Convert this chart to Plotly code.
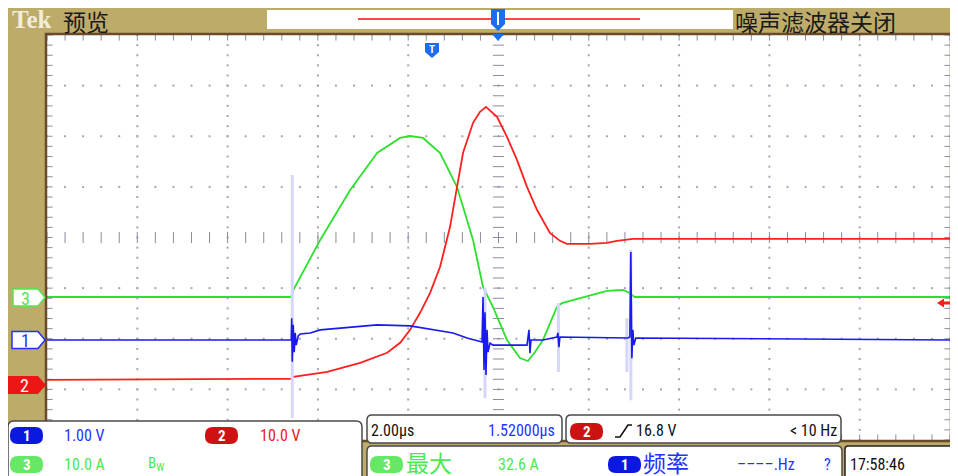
import plotly.graph_objects as go

# The page body has an 8px margin: the figure is sized to fill the rest of the window,
# and every layout position below is given in window pixels, then shifted by OFF.
WIN_W, WIN_H = 958, 476
OFF = 8
W, H = WIN_W - OFF, WIN_H - OFF
GX0, GX1, GY0, GY1 = 47, 950, 35, 440          # graticule box (window pixels)

# ---------------- scope settings ----------------
TIME_PER_DIV = 2.0                 # us / div
CH1_SCALE, CH1_POS = 1.0, -2.025   # V/div , ground position (div)
CH2_SCALE, CH2_POS = 10.0, -2.91   # V/div
CH3_SCALE, CH3_POS = 10.0, -1.175  # A/div

# ---------------- waveform data ----------------
# CH3 current (A)
ch3_t = [-10.0, -4.591, -4.546, -3.949, -3.285, -2.688, -2.179, -1.958, -1.670, -1.294,
         -0.918, -0.564, -0.343, -0.122, 0.188, 0.476, 0.653, 0.808, 0.985, 1.294,
         1.405, 1.648, 2.024, 2.400, 2.754, 2.865, 3.020, 10.0]
ch3_a = [0.0, 0.0, 1.38, 11.26, 21.14, 28.44, 31.41, 31.80, 31.41, 28.44,
         21.73, 11.26, 1.98, -1.98, -8.49, -12.05, -12.64, -10.86, -8.49, -1.98,
         -1.19, -0.59, 0.40, 1.19, 1.38, 0.99, 0.0, 0.0]

# CH2 voltage (V)
ch2_t = [-10.0, -4.591, -4.546, -3.794, -3.064, -2.467, -2.179, -1.958, -1.737, -1.515,
         -1.294, -1.073, -0.918, -0.785, -0.564, -0.409, -0.277, -0.033, 0.188, 0.409,
         0.631, 0.852, 1.139, 1.361, 1.515, 2.024, 2.400, 2.622, 2.976, 10.0]
ch2_v = [0.99, 1.19, 1.58, 2.57, 4.35, 6.32, 8.30, 10.86, 14.22, 18.17,
         23.31, 31.21, 39.11, 45.83, 51.75, 53.93, 54.91, 52.94, 48.99, 44.44,
         39.11, 34.57, 30.02, 28.44, 27.85, 27.85, 28.05, 28.44, 28.84, 28.84]

# CH1 voltage (V)
ch1_t = [-10.0, -4.635, -4.591, -4.580, -4.568, -4.546, -4.524, -4.502, -4.480, -4.436,
         -4.392, -4.170, -3.949, -3.440, -2.688, -1.958, -1.449, -1.007, -0.697, -0.409,
         -0.365, -0.343, -0.321, -0.299, -0.277, -0.254, -0.232, -0.188, -0.122, 0.631,
         0.675, 0.697, 0.719, 0.985, 1.294, 1.316, 1.338, 1.361, 2.246, 2.865,
         2.909, 2.931, 2.954, 2.976, 2.998, 3.042, 10.0]
ch1_v = [0.0, 0.0, 0.0, 0.43, -0.43, 0.30, -0.24, 0.14, -0.10, 0.08,
         0.12, 0.14, 0.20, 0.24, 0.30, 0.28, 0.20, 0.14, 0.04, -0.04,
         -0.04, 0.85, -0.59, 0.55, -0.69, 0.20, -0.24, -0.06, -0.10, -0.10,
         0.20, -0.26, 0.0, 0.0, 0.06, 0.14, -0.14, 0.06, 0.04, 0.04,
         0.06, 1.74, -0.36, 0.20, -0.10, 0.04, 0.0]

# CH1 persistence spikes (faint)
spike_t = [-4.568, -0.299, 1.327, 2.843, 2.931]
spike_hi = [3.26, 1.03, 0.73, 0.43, 1.78]
spike_lo = [-1.54, -1.15, -0.63, -0.63, -1.19]

# ---------------- text ----------------
ch1_label, ch2_label, ch3_label = "1.00 V", "10.0 V", "10.0 A"
timebase_label, hpos_label = "2.00µs", "1.52000µs"
trig_label, trig_freq = "16.8 V", "< 10 Hz"
meas1_name, meas1_val = "最大", "32.6 A"
meas2_name, meas2_val = "频率", "––––.Hz"
clock_label = "17:58:46"

SANS = "Liberation Sans Narrow, Roboto Condensed, Liberation Sans, Arial, sans-serif"
CJK = "Noto Sans CJK SC, sans-serif"
TAN = "#bdab6a"
BROWN = "#6b4a28"
BLUE_T, RED_T, GREEN_T = "#2233ff", "#e81820", "#4ee84e"
BLUE_P, RED_P, GREEN_P = "#0a18e0", "#cc1212", "#66e866"
BOXLINE = "#4a4a4a"


def fx(x):
    return (x - OFF) / W


def fy(y):
    return 1 - (y - OFF) / H


def P(x, y):
    return f"{fx(x):.5f},{fy(y):.5f}"


def rrect_path(x0, y0, x1, y1, r):
    return (f"M{P(x0 + r, y0)} L{P(x1 - r, y0)} Q{P(x1, y0)} {P(x1, y0 + r)} "
            f"L{P(x1, y1 - r)} Q{P(x1, y1)} {P(x1 - r, y1)} L{P(x0 + r, y1)} "
            f"Q{P(x0, y1)} {P(x0, y1 - r)} L{P(x0, y0 + r)} Q{P(x0, y0)} {P(x0 + r, y0)} Z")


def poly_path(pts):
    return "M" + " L".join(P(x, y) for x, y in pts) + " Z"


def pshape(path, fill="rgba(0,0,0,0)", line="rgba(0,0,0,0)", lw=0):
    return dict(type="path", path=path, xref="paper", yref="paper", fillcolor=fill,
                line=dict(color=line, width=lw), layer="above")


def rect(x0, y0, x1, y1, fill, line="rgba(0,0,0,0)", lw=0):
    return dict(type="rect", xref="paper", yref="paper", x0=fx(x0), x1=fx(x1),
                y0=fy(y1), y1=fy(y0), fillcolor=fill,
                line=dict(color=line, width=lw), layer="above")


annotations = []


def txt(s, x, y, color, size, anchor="left", family=SANS, height=None):
    a = dict(text=s, x=fx(x), y=fy(y), xref="paper", yref="paper",
             xanchor=anchor, yanchor="middle", showarrow=False,
             font=dict(color=color, size=size, family=family))
    if height:
        a["height"] = height
    annotations.append(a)


shapes = []


def pill(x0, y0, x1, y1, fill, label):
    shapes.append(pshape(rrect_path(x0, y0, x1, y1, (y1 - y0) / 2.2), fill=fill))
    txt(f"<b>{label}</b>", (x0 + x1) / 2, (y0 + y1) / 2 + 0.5, "white", 15, "center")


# graticule frame
shapes.append(rect(GX0 - 1, GY0 - 1, GX1 + 1, GY1 + 1, "rgba(0,0,0,0)", BROWN, 2.5))

# top header bar
txt("<b>Tek</b>", 10, 19, "#f2ecd8", 25, family="Liberation Serif, DejaVu Serif, serif", height=24)
txt("预览", 61, 21, "#1a1a1a", 23, family=CJK, height=26)
shapes.append(rect(267, 10, 733, 29, "white"))
shapes.append(dict(type="line", xref="paper", yref="paper", x0=fx(358), x1=fx(640),
                   y0=fy(19), y1=fy(19), line=dict(color="#ff4545", width=2), layer="above"))
txt("噪声滤波器关闭", 733, 21, "#1a1a1a", 23, family=CJK, height=26)

# expansion-point / trigger position markers
MK = "#1e6cf0"
shapes.append(pshape(poly_path([(491, 9), (505, 9), (505, 24), (498, 31), (491, 24)]), fill=MK))
shapes.append(dict(type="line", xref="paper", yref="paper", x0=fx(498), x1=fx(498),
                   y0=fy(12), y1=fy(25), line=dict(color="white", width=2), layer="above"))
shapes.append(pshape(poly_path([(492, 34), (504, 34), (498, 41)]), fill=MK))
shapes.append(pshape(poly_path([(425, 43), (439, 43), (439, 52), (432, 58), (425, 52)]), fill=MK))
txt("<b>T</b>", 432, 49, "white", 11, "center")

# left channel markers
shapes.append(pshape(poly_path([(13, 289), (38, 289), (45, 297.5), (38, 306), (13, 306)]), fill="white", line=GREEN_T, lw=1.5))
txt("3", 25, 298, GREEN_T, 18, "center")
shapes.append(pshape(poly_path([(12, 331.5), (38, 331.5), (45, 340), (38, 348.5), (12, 348.5)]), fill="white", line=BLUE_T, lw=1.5))
txt("1", 25, 340.5, BLUE_T, 18, "center")
shapes.append(pshape(poly_path([(8, 376), (38, 376), (46, 385), (38, 394), (8, 394)]), fill="#ee1515"))
txt("2", 24, 385.5, "white", 18, "center")

# right trigger level arrow
shapes.append(pshape(poly_path([(937, 303), (944, 298.5), (944, 307.5)]), fill="#ee2020"))
shapes.append(rect(943, 301.5, 950, 304.5, "#ee2020"))

# bottom info boxes
shapes.append(pshape(rrect_path(8, 421, 362, 490, 6), fill="white", line=BOXLINE, lw=1.5))
shapes.append(pshape(rrect_path(367, 415, 562, 443, 5), fill="white", line=BOXLINE, lw=1.5))
shapes.append(pshape(rrect_path(566, 415, 841, 443, 5), fill="white", line=BOXLINE, lw=1.5))
shapes.append(pshape(rrect_path(367, 446, 842, 490, 5), fill="white", line=BOXLINE, lw=1.5))
shapes.append(pshape(rrect_path(845, 446, 975, 490, 3), fill="white", line="#222", lw=1.5))

pill(10, 427, 43, 444, BLUE_P, "1")
txt(ch1_label, 62, 435, BLUE_T, 16)
pill(205, 427, 238, 444, RED_P, "2")
txt(ch2_label, 258, 435, RED_T, 16)
pill(10, 456, 43, 473, GREEN_P, "3")
txt(ch3_label, 62, 464, GREEN_T, 16)
txt("B<sub>W</sub>", 146, 464, GREEN_T, 15)

txt(timebase_label, 369, 430, "#111", 16)
txt(hpos_label, 557, 430, BLUE_T, 16, "right")
pill(570, 423, 603, 440, RED_P, "2")
shapes.append(pshape(f"M{P(615,437)} L{P(620,437)} L{P(628,425)} L{P(632,425)}", line="#111", lw=1.6))
txt(trig_label, 634, 430, "#111", 16)
txt(trig_freq, 839, 430, "#111", 16, "right")

pill(370, 456, 403, 473, GREEN_P, "3")
txt(meas1_name, 404, 462, GREEN_T, 23, family=CJK, height=26)
txt(meas1_val, 496, 464, GREEN_T, 16)
pill(608, 456, 641, 473, BLUE_P, "1")
txt(meas2_name, 641, 462, BLUE_T, 23, family=CJK, height=26)
txt(meas2_val, 735, 464, BLUE_T, 16)
txt("?", 822, 464, BLUE_T, 16)
txt(clock_label, 848, 464, "#111", 16)

# ---------------- figure ----------------
fig = go.Figure()

# graticule (dots and ticks)
DOT = "#a2a6b6"
TICK = "#8a8e9e"
gx, gy = [], []
for k in range(-4, 5):
    if k == 0:
        continue
    for j in range(-20, 21):
        gx.append(k * TIME_PER_DIV); gy.append(j * 0.2)
for m in range(-3, 4):
    if m == 0:
        continue
    for i in range(-25, 26):
        gx.append(i * TIME_PER_DIV / 5); gy.append(m)
fig.add_trace(go.Scatter(x=gx, y=gy, mode="markers", hoverinfo="skip",
                         marker=dict(symbol="square", size=2, color=DOT, line=dict(width=0))))
vx = [0] * 41 + [-10] * 41 + [10] * 41
vy = [j * 0.2 for j in range(-20, 21)] * 3
fig.add_trace(go.Scatter(x=vx, y=vy, mode="markers", hoverinfo="skip",
                         marker=dict(symbol="line-ew", size=8, line=dict(width=1, color=TICK))))
hx = [i * TIME_PER_DIV / 5 for i in range(-25, 26)] * 3
hy = [0] * 51 + [4] * 51 + [-4] * 51
fig.add_trace(go.Scatter(x=hx, y=hy, mode="markers", hoverinfo="skip",
                         marker=dict(symbol="line-ns", size=8, line=dict(width=1, color=TICK))))

# waveforms
fig.add_trace(go.Scatter(x=ch3_t, y=ch3_a, yaxis="y2", mode="lines", hoverinfo="skip",
                         line=dict(color="#2ee02e", width=1.8)))
fig.add_trace(go.Scatter(x=ch2_t, y=ch2_v, yaxis="y3", mode="lines", hoverinfo="skip",
                         line=dict(color="#ff1f1f", width=1.8)))
sx, sy = [], []
for t, hi, lo in zip(spike_t, spike_hi, spike_lo):
    sx += [t, t, None]; sy += [lo, hi, None]
fig.add_trace(go.Scatter(x=sx, y=sy, yaxis="y4", mode="lines", hoverinfo="skip",
                         line=dict(color="#d6d6fa", width=3)))
fig.add_trace(go.Scatter(x=ch1_t, y=ch1_v, yaxis="y4", mode="lines", hoverinfo="skip",
                         line=dict(color="#1a1af0", width=1.6)))


def yr(scale, pos):
    return [(-4 - pos) * scale, (4 - pos) * scale]


ydom = [fy(GY1), fy(GY0)]
hidden = dict(visible=False, showgrid=False, zeroline=False, fixedrange=True)
fig.update_layout(
    width=W, height=H, margin=dict(l=0, r=0, t=0, b=0),
    paper_bgcolor=TAN, plot_bgcolor="white", showlegend=False,
    xaxis=dict(domain=[fx(GX0), fx(GX1)], range=[-5 * TIME_PER_DIV, 5 * TIME_PER_DIV], **hidden),
    yaxis=dict(domain=ydom, range=[-4, 4], **hidden),
    yaxis2=dict(overlaying="y", range=yr(CH3_SCALE, CH3_POS), **hidden),
    yaxis3=dict(overlaying="y", range=yr(CH2_SCALE, CH2_POS), **hidden),
    yaxis4=dict(overlaying="y", range=yr(CH1_SCALE, CH1_POS), **hidden),
    shapes=shapes, annotations=annotations,
)
fig.write_html("out.html")
